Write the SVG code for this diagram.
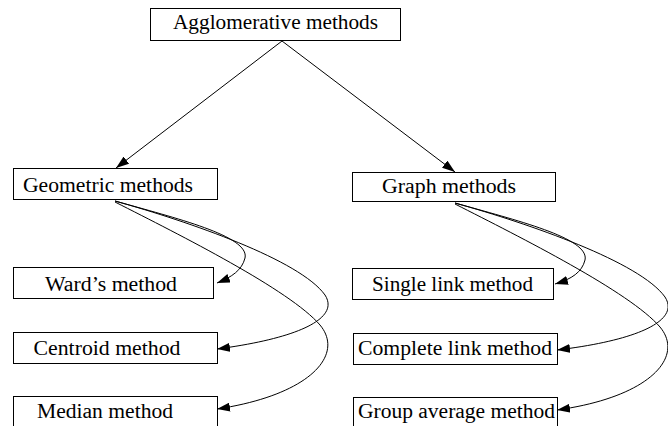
<svg xmlns="http://www.w3.org/2000/svg" width="668" height="426" viewBox="0 0 668 426">
<style>
.box{fill:#fff;stroke:#000;stroke-width:1}
.lbl{font-family:'Liberation Serif','DejaVu Serif',serif;font-size:20px;fill:#000;text-anchor:middle}
.edge{fill:none;stroke:#000;stroke-width:1}
</style>
<defs>
<marker id="ah" markerUnits="userSpaceOnUse" viewBox="0 0 13 9" refX="13" refY="4.5" markerWidth="13" markerHeight="9" orient="auto">
<path d="M0,0 L13,4.5 L0,9 Z" fill="#000"/>
</marker>
</defs>
<rect width="668" height="426" fill="#fff"/>
<g id="connectors">
<path class="edge" d="M282,41 L116,168" marker-end="url(#ah)"/>
<path class="edge" d="M282,41 L455,172" marker-end="url(#ah)"/>
<path class="edge" d="M115,201 C175,218 250,236 245,258 C242,270 232,277 217,283" marker-end="url(#ah)"/>
<path class="edge" d="M115,201 C190,222 300,260 325,295 C340,318 300,338 217,349" marker-end="url(#ah)"/>
<path class="edge" d="M115,202 C180,235 290,290 320,325 C345,355 310,395 217,409" marker-end="url(#ah)"/>
<path class="edge" d="M455,203 C515,220 590,238 585,260 C582,272 572,279 555,284" marker-end="url(#ah)"/>
<path class="edge" d="M455,203 C530,224 640,262 665,297 C680,320 640,340 557,350" marker-end="url(#ah)"/>
<path class="edge" d="M455,204 C520,237 630,292 660,327 C685,357 650,397 557,410" marker-end="url(#ah)"/>
</g>
<g id="agglomerative">
<rect class="box" x="150.5" y="8.5" width="250" height="32"/>
<text class="lbl" font-family="Liberation Serif, serif" x="275.5" y="29" textLength="205" lengthAdjust="spacingAndGlyphs">Agglomerative methods</text>
</g>
<g id="geometric">
<rect class="box" x="13.5" y="168.5" width="204" height="31"/>
<text class="lbl" font-family="Liberation Serif, serif" x="108" y="192" textLength="170" lengthAdjust="spacingAndGlyphs">Geometric methods</text>
</g>
<g id="graph">
<rect class="box" x="352.5" y="172.5" width="203" height="29"/>
<text class="lbl" font-family="Liberation Serif, serif" x="449" y="193" textLength="134" lengthAdjust="spacingAndGlyphs">Graph methods</text>
</g>
<g id="ward">
<rect class="box" x="13.5" y="267.5" width="200" height="31"/>
<text class="lbl" font-family="Liberation Serif, serif" x="111" y="291" textLength="132" lengthAdjust="spacingAndGlyphs">Ward’s method</text>
</g>
<g id="centroid">
<rect class="box" x="13.5" y="332.5" width="204" height="31"/>
<text class="lbl" font-family="Liberation Serif, serif" x="107" y="355" textLength="147" lengthAdjust="spacingAndGlyphs">Centroid method</text>
</g>
<g id="median">
<rect class="box" x="13.5" y="396.5" width="204" height="31"/>
<text class="lbl" font-family="Liberation Serif, serif" x="105" y="418" textLength="136" lengthAdjust="spacingAndGlyphs">Median method</text>
</g>
<g id="single">
<rect class="box" x="352.5" y="268.5" width="201" height="31"/>
<text class="lbl" font-family="Liberation Serif, serif" x="452.5" y="291" textLength="161" lengthAdjust="spacingAndGlyphs">Single link method</text>
</g>
<g id="complete">
<rect class="box" x="353.5" y="333.5" width="204" height="31"/>
<text class="lbl" font-family="Liberation Serif, serif" x="455" y="355" textLength="194" lengthAdjust="spacingAndGlyphs">Complete link method</text>
</g>
<g id="groupavg">
<rect class="box" x="353.5" y="397.5" width="204" height="31"/>
<text class="lbl" font-family="Liberation Serif, serif" x="456.5" y="418" textLength="197" lengthAdjust="spacingAndGlyphs">Group average method</text>
</g>
</svg>
